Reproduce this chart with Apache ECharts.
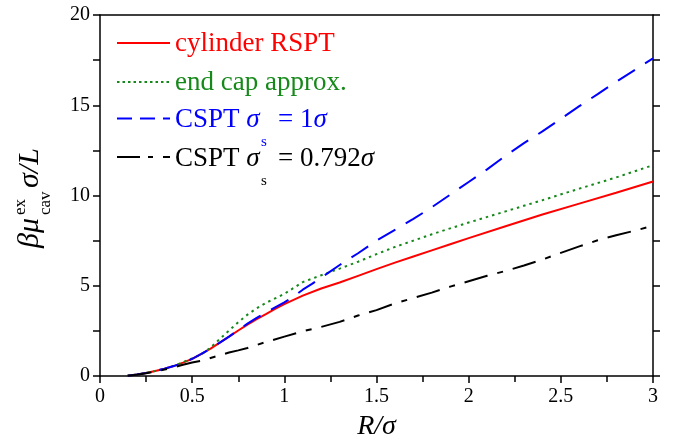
<!DOCTYPE html>
<html>
<head>
<meta charset="utf-8">
<script src="https://cdn.jsdelivr.net/npm/echarts@6/dist/echarts.min.js"></script>
<style>
html,body{margin:0;padding:0;background:#fff;}
#chart{width:679px;height:446px;}
</style>
</head>
<body>
<div id="chart"></div>
<script>
// ---- data ----
var xTicks = [0, 0.5, 1, 1.5, 2, 2.5, 3];
var yTicks = [0, 5, 10, 15, 20];

var seriesNames = ['cylinder RSPT', 'end cap approx.', 'CSPT σs = 1σ', 'CSPT σs = 0.792σ'];

var xRed = [0.15,0.2,0.25,0.3,0.35,0.4,0.45,0.5,0.55,0.6,0.65,0.7,0.75,0.8,0.85,0.9,0.95,1.0,1.1,1.2,1.3,1.4,1.5,1.6,1.7,1.8,1.9,2.0,2.2,2.4,2.6,2.8,3.0];
var yRed = [0.02,0.08,0.17,0.28,0.4,0.55,0.74,0.95,1.22,1.52,1.85,2.18,2.52,2.85,3.15,3.43,3.72,3.98,4.45,4.85,5.18,5.55,5.92,6.28,6.62,6.96,7.3,7.64,8.3,8.95,9.55,10.15,10.78];

var xGreen = [0.15,0.2,0.25,0.3,0.35,0.4,0.45,0.5,0.55,0.6,0.65,0.7,0.75,0.8,0.85,0.9,0.95,1.0,1.1,1.2,1.3,1.4,1.5,1.6,1.7,1.8,1.9,2.0,2.2,2.4,2.6,2.8,3.0];
var yGreen = [0.02,0.08,0.17,0.28,0.4,0.56,0.76,0.98,1.2,1.58,2.05,2.52,2.98,3.4,3.75,4.05,4.3,4.55,5.2,5.58,5.95,6.33,6.75,7.15,7.5,7.85,8.18,8.5,9.12,9.74,10.38,11.0,11.68];

var xBlue = [0.15,0.2,0.25,0.3,0.35,0.4,0.45,0.5,0.55,0.6,0.65,0.7,0.75,0.8,0.85,0.9,0.95,1.0,1.05,1.1,1.15,1.2,1.25,1.3,1.35,1.4,1.5,1.6,1.7,1.8,1.9,2.0,2.1,2.2,2.3,2.4,2.5,2.6,2.7,2.8,2.9,3.0];
var yBlue = [0.02,0.08,0.17,0.28,0.4,0.55,0.74,0.95,1.22,1.52,1.85,2.18,2.55,2.9,3.22,3.52,3.8,4.08,4.4,4.78,5.1,5.45,5.8,6.15,6.48,6.8,7.5,8.1,8.7,9.35,10.05,10.75,11.45,12.2,12.9,13.55,14.25,14.95,15.62,16.3,16.95,17.6];

var xBlack = [0.15,0.2,0.25,0.3,0.35,0.4,0.45,0.5,0.55,0.6,0.65,0.7,0.75,0.8,0.85,0.9,1.0,1.1,1.2,1.3,1.4,1.5,1.6,1.7,1.8,1.9,2.0,2.1,2.2,2.3,2.4,2.5,2.6,2.7,2.8,2.9,3.0];
var yBlack = [0.02,0.07,0.15,0.25,0.36,0.48,0.62,0.75,0.85,1.0,1.15,1.3,1.42,1.55,1.72,1.88,2.18,2.48,2.72,3.0,3.35,3.65,4.02,4.32,4.62,4.95,5.25,5.55,5.82,6.12,6.45,6.82,7.18,7.52,7.8,8.05,8.32];

// ---- styles ----
var FONT = '"Liberation Serif", "Times New Roman", serif';
var RED = '#ff0000', GREEN = '#17891b', BLUE = '#0000ff', BLACK = '#000000';

function pairs(xs, ys) { return xs.map(function (x, i) { return [x, ys[i]]; }); }

var axisLineStyle = { color: '#000', width: 1.5 };

var chart = echarts.init(document.getElementById('chart'), null, { renderer: 'canvas' });

function legendRow(y, color, dash, parts) {
  var els = [{
    type: 'line',
    shape: { x1: 117, y1: y, x2: 170, y2: y },
    style: { stroke: color, lineWidth: 2, lineDash: dash },
    silent: true
  }];
  return els.concat(parts);
}
function txt(x, y, text, color, font, extra) {
  var s = { text: text, x: x, y: y, fill: color, font: font,
            textAlign: 'left', textVerticalAlign: 'middle', align: 'left', verticalAlign: 'middle' };
  if (extra) for (var k in extra) s[k] = extra[k];
  return { type: 'text', style: s, silent: true };
}
var LF = '27px ' + FONT, LFI = 'italic 27px ' + FONT, SF = '15px ' + FONT;
var richL = function (c) {
  return { a: { font: LF, fill: c }, b: { font: LFI, fill: c } };
};

var graphics = [];
graphics = graphics.concat(legendRow(43, RED, null, [txt(175, 44, seriesNames[0], RED, LF)]));
graphics = graphics.concat(legendRow(82, GREEN, [2.5, 3], [txt(175, 83, seriesNames[1], GREEN, LF)]));
graphics = graphics.concat(legendRow(118.5, BLUE, [15, 8], [
  txt(175, 120, '{a|CSPT }{b|σ}', BLUE, LF, { rich: richL(BLUE) }),
  txt(261, 142, 's', BLUE, SF),
  txt(278, 120, '{a|= 1}{b|σ}', BLUE, LF, { rich: richL(BLUE) })
]));
graphics = graphics.concat(legendRow(157, BLACK, [23, 8, 5, 10], [
  txt(175, 159, '{a|CSPT }{b|σ}', BLACK, LF, { rich: richL(BLACK) }),
  txt(261, 181, 's', BLACK, SF),
  txt(278, 159, '{a|= 0.792}{b|σ}', BLACK, LF, { rich: richL(BLACK) })
]));

// rotated y-axis title: βμ^ex_cav σ/L
graphics.push({
  type: 'group', x: 30, y: 248, rotation: Math.PI / 2, silent: true,
  children: [
    txt(0, 0, 'βμ', BLACK, 'italic 30px ' + FONT),
    txt(33, -9, 'ex', BLACK, '17px ' + FONT),
    txt(33, 16, 'cav', BLACK, '17px ' + FONT),
    txt(60, 0, 'σ/L', BLACK, 'italic 30px ' + FONT)
  ]
});

var option = {
  backgroundColor: '#fff',
  animation: false,
  grid: { left: 100, right: 26, top: 15, bottom: 63, containLabel: false },
  xAxis: [{
    type: 'value', min: xTicks[0], max: xTicks[xTicks.length - 1], interval: 0.5,
    position: 'bottom',
    name: 'R/σ', nameLocation: 'middle', nameGap: 37,
    nameTextStyle: { fontFamily: FONT, fontSize: 28, fontStyle: 'italic', color: '#000' },
    axisLine: { show: true, lineStyle: axisLineStyle },
    axisTick: { show: true, inside: false, length: 7, lineStyle: { color: '#000', width: 1.5 } },
    minorTick: { show: true, splitNumber: 2, length: 6, lineStyle: { color: '#000', width: 1.5 } },
    axisLabel: { margin: 11, fontFamily: FONT, fontSize: 20, color: '#000',
      formatter: function (v) { return String(v); } },
    splitLine: { show: false }
  }, {
    type: 'value', min: 0, max: 3, position: 'top',
    axisLine: { show: true, onZero: false, lineStyle: axisLineStyle },
    axisTick: { show: false }, axisLabel: { show: false }, splitLine: { show: false }
  }],
  yAxis: [{
    type: 'value', min: yTicks[0], max: yTicks[yTicks.length - 1], interval: 5,
    position: 'left',
    axisLine: { show: true, onZero: false, lineStyle: axisLineStyle },
    axisTick: { show: true, inside: false, length: 7, lineStyle: { color: '#000', width: 1.5 } },
    minorTick: { show: true, splitNumber: 2, length: 7, lineStyle: { color: '#000', width: 1.5 } },
    axisLabel: { margin: 10, fontFamily: FONT, fontSize: 20, color: '#000' },
    splitLine: { show: false }
  }, {
    type: 'value', min: 0, max: 20, interval: 5, position: 'right',
    axisLine: { show: true, onZero: false, lineStyle: axisLineStyle },
    axisTick: { show: true, inside: false, length: 7, lineStyle: { color: '#000', width: 1.5 } },
    minorTick: { show: true, splitNumber: 2, length: 7, lineStyle: { color: '#000', width: 1.5 } },
    axisLabel: { show: false },
    splitLine: { show: false }
  }],
  series: [
    { name: seriesNames[0], type: 'line', showSymbol: false, data: pairs(xRed, yRed),
      lineStyle: { color: RED, width: 2 }, z: 3 },
    { name: seriesNames[1], type: 'line', showSymbol: false, data: pairs(xGreen, yGreen),
      lineStyle: { color: GREEN, width: 2, type: [2.5, 4] }, z: 3 },
    { name: seriesNames[2], type: 'line', showSymbol: false, data: pairs(xBlue, yBlue),
      lineStyle: { color: BLUE, width: 2, type: [20, 12] }, z: 3 },
    { name: seriesNames[3], type: 'line', showSymbol: false, data: pairs(xBlack, yBlack),
      lineStyle: { color: BLACK, width: 2, type: [24, 10, 6, 10] }, z: 3 }
  ],
  graphic: graphics
};
chart.setOption(option);
</script>
</body>
</html>
